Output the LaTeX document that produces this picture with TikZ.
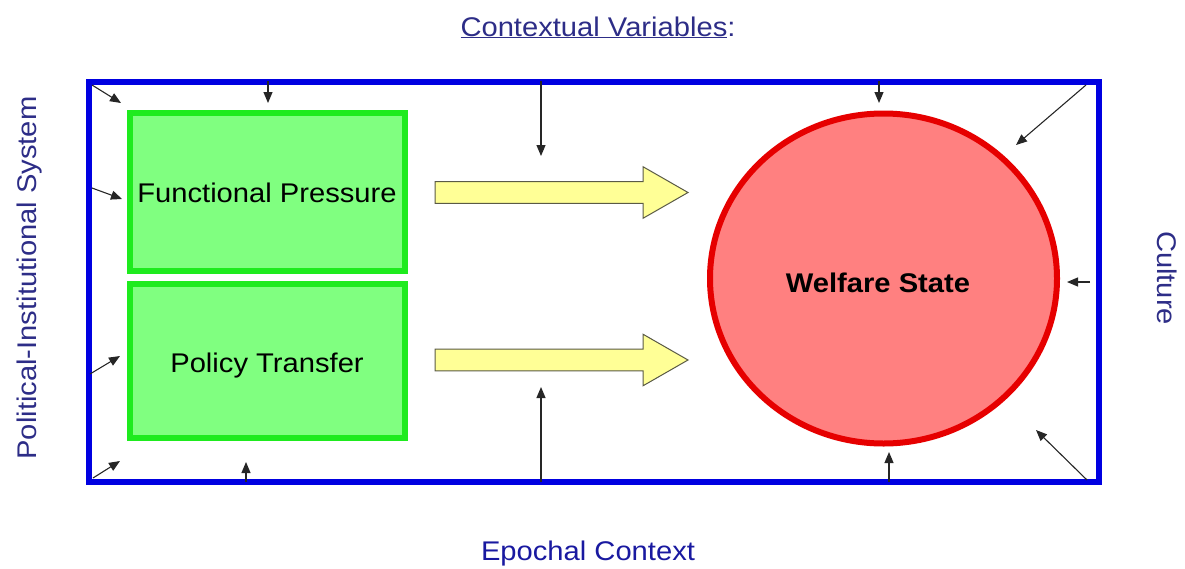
\documentclass[tikz,border=0pt]{standalone}
\usepackage{fontspec}
\setmainfont[FakeStretch=1.08]{Liberation Sans}
\usetikzlibrary{arrows.meta}
\definecolor{frameblue}{RGB}{0,0,225}
\definecolor{boxgreen}{RGB}{30,235,30}
\definecolor{boxfill}{RGB}{128,255,128}
\definecolor{circred}{RGB}{230,0,0}
\definecolor{circfill}{RGB}{255,128,128}
\definecolor{yfill}{RGB}{255,255,150}
\definecolor{yline}{RGB}{90,90,70}
\definecolor{navy}{RGB}{45,45,135}
\definecolor{navyb}{RGB}{25,25,160}
\tikzset{
  frame/.style={draw=frameblue, line width=6pt},
  gbox/.style={draw=boxgreen, fill=boxfill, line width=6pt},
  circ/.style={draw=circred, fill=circfill, line width=6pt},
  yarrow/.style={draw=yline, fill=yfill, line width=1pt, line join=miter},
  small/.style={draw=black!85, line width=1.1pt, -{Triangle[length=11pt,width=9pt]}},
  lbl/.style={font=\fontsize{27}{31}\selectfont, inner sep=0pt, anchor=base},
  ctx/.style={lbl, text=navy},
}
\begin{document}
\begin{tikzpicture}[x=1pt,y=-1pt]
\useasboundingbox (0,0) rectangle (1185,568);
% frame
\draw[frame] (88.5,81.5) rectangle (1098.5,481.5);
% boxes
\draw[gbox] (130,113) rectangle (405,271);
\draw[gbox] (130,284) rectangle (405,438);
\node[lbl] (fp) at (267,202.5) {Functional Pressure};
\node[lbl] (pt) at (267,372) {Policy Transfer};
% welfare state
\draw[circ] (883.5,278.5) ellipse [x radius=173.5, y radius=165];
\node[lbl, font=\fontsize{27}{31}\selectfont\bfseries] (ws) at (878,292) {Welfare State};
% yellow arrows
\draw[yarrow] (435,181.7) -- (643,181.7) -- (643,166.7) -- (688,192.5) -- (643,218.3) -- (643,203.3) -- (435,203.3) -- cycle;
\draw[yarrow] (435,349.2) -- (643,349.2) -- (643,334.2) -- (688,360) -- (643,385.8) -- (643,370.8) -- (435,370.8) -- cycle;
% context labels
\node[ctx] (cv) at (598,36) {\underline{Contextual Variables}:};
\node[lbl, text=navyb] (ec) at (588,560) {Epochal Context};
\node[ctx, rotate=90] (pis) at (36,278) {Political-Institutional System};
\node[ctx, rotate=-90] (cu) at (1157,278) {Culture};
% small arrows: tails and tips
\coordinate (a1) at (92,85);   \coordinate (b1) at (121,103);
\coordinate (a2) at (268,81);  \coordinate (b2) at (268,103);
\coordinate (a3) at (541,81);  \coordinate (b3) at (541,156);
\coordinate (a4) at (879,81);  \coordinate (b4) at (879,103);
\coordinate (a5) at (1086,85); \coordinate (b5) at (1016,145);
\coordinate (a6) at (92,188);  \coordinate (b6) at (122,199);
\coordinate (a7) at (90,374);  \coordinate (b7) at (120,356);
\coordinate (a8) at (93,478);  \coordinate (b8) at (120,461);
\coordinate (a9) at (246,482); \coordinate (b9) at (246,462);
\coordinate (a10) at (541,482); \coordinate (b10) at (541,387);
\coordinate (a11) at (889,482); \coordinate (b11) at (889,452);
\coordinate (a12) at (1087,480); \coordinate (b12) at (1036,430);
\coordinate (a13) at (1090,282); \coordinate (b13) at (1067,282);
\foreach \i in {1,...,13} {\draw[small] (a\i) -- (b\i);}
\end{tikzpicture}
\end{document}
